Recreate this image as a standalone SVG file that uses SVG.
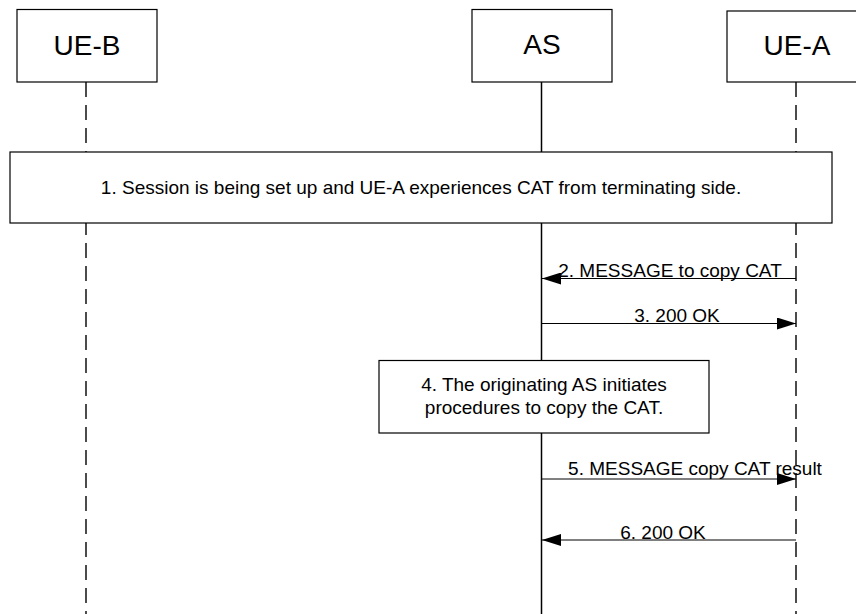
<svg xmlns="http://www.w3.org/2000/svg" width="856" height="614" viewBox="0 0 856 614">
  <style>
    .box { fill: #ffffff; stroke: #000000; stroke-width: 1.2; }
    .name { font-family: "Liberation Sans", Arial, sans-serif; font-size: 28px; fill: #000000; text-anchor: middle; }
    .txt { font-family: "Liberation Sans", Arial, sans-serif; font-size: 19px; fill: #000000; text-anchor: middle; }
    .life-dash { stroke: #000000; stroke-width: 1.4; stroke-dasharray: 15 8; fill: none; }
    .life-solid { stroke: #000000; stroke-width: 1.5; fill: none; }
    .msg { stroke: #000000; stroke-width: 1; fill: none; marker-end: url(#head); }
  </style>
  <defs>
    <marker id="head" viewBox="0 0 19 12" refX="19" refY="6" markerWidth="19" markerHeight="12" markerUnits="userSpaceOnUse" orient="auto">
      <path d="M0,0 L19,6 L0,12 Z" fill="#000000"/>
    </marker>
  </defs>

  <rect width="856" height="614" fill="#ffffff"/>

  <!-- lifelines -->
  <g id="lifelines">
    <line class="life-dash" x1="86" y1="82" x2="86" y2="614"/>
    <line class="life-solid" x1="541.5" y1="82" x2="541.5" y2="614"/>
    <line class="life-dash" x1="796" y1="82" x2="796" y2="614"/>
  </g>

  <!-- participants -->
  <g id="ue-b">
    <rect class="box" x="17" y="9.5" width="140" height="72.5"/>
    <text class="name" x="87" y="55">UE-B</text>
  </g>
  <g id="as">
    <rect class="box" x="472" y="9.5" width="140" height="72.5"/>
    <text class="name" x="542" y="54">AS</text>
  </g>
  <g id="ue-a">
    <rect class="box" x="727" y="11" width="140" height="71"/>
    <text class="name" x="797" y="55">UE-A</text>
  </g>

  <!-- step 1 -->
  <g id="step1">
    <rect class="box" x="10" y="152" width="822" height="71"/>
    <text class="txt" x="421" y="194">1. Session is being set up and UE-A experiences CAT from terminating side.</text>
  </g>

  <!-- step 4 -->
  <g id="step4">
    <rect class="box" x="379" y="360.5" width="330" height="72.5"/>
    <text class="txt" x="544" y="391">4. The originating AS initiates</text>
    <text class="txt" x="544" y="414">procedures to copy the CAT.</text>
  </g>

  <!-- messages -->
  <g id="connectors">
    <line class="msg" x1="796" y1="278.5" x2="542" y2="278.5"/>
    <line class="msg" x1="542" y1="323.5" x2="796" y2="323.5"/>
    <line class="msg" x1="542" y1="479" x2="796" y2="479"/>
    <line class="msg" x1="796" y1="540" x2="542" y2="540"/>
  </g>
  <g id="labels">
    <text class="txt" x="670" y="277">2. MESSAGE to copy CAT</text>
    <text class="txt" x="677" y="321.5">3. 200 OK</text>
    <text class="txt" x="695" y="475">5. MESSAGE copy CAT result</text>
    <text class="txt" x="663" y="539">6. 200 OK</text>
  </g>
</svg>
